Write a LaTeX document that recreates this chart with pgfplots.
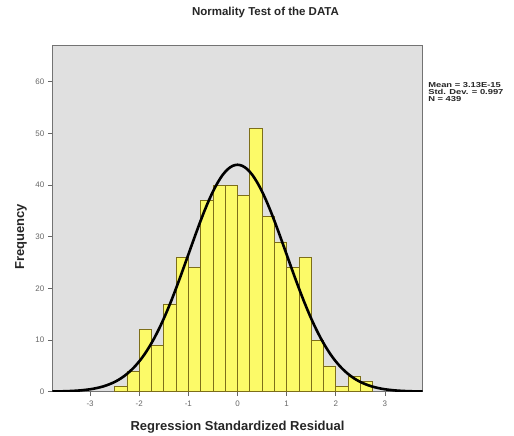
\documentclass[border=0pt]{standalone}
\usepackage{pgfplots}
\pgfplotsset{compat=1.18}
\usepackage{fontspec}
\setmainfont{Liberation Sans}
\definecolor{barfill}{RGB}{252,250,104}
\definecolor{baredge}{RGB}{125,110,25}
\definecolor{plotbg}{RGB}{224,224,224}
\begin{document}
\begin{tikzpicture}
\useasboundingbox (0,0) rectangle (514bp,436bp);
\begin{axis}[
  at={(52.3bp,44.3bp)}, anchor=south west,
  scale only axis, width=370.4bp, height=346.7bp,
  xmin=-3.77, xmax=3.77, ymin=0, ymax=67.1,
  axis background/.style={fill=plotbg},
  axis line style={black!55, line width=0.8bp},
  xtick={-3,-2,-1,0,1,2,3},
  ytick={0,10,20,30,40,50,60},
  tick align=outside, tick pos=left,
  major tick length=4.5bp,
  tick style={black!60, line width=0.6bp},
  /pgf/number format/assume math mode=true,
  ticklabel style={font=\fontsize{8bp}{9bp}\selectfont, text=black!60},
  xticklabel style={yshift=-1bp},
  clip=true,
]
\addplot[ybar interval, fill=barfill, draw=baredge, line width=0.7bp] coordinates {
  (-2.5,1) (-2.25,4) (-2.0,12) (-1.75,9) (-1.5,17) (-1.25,26) (-1.0,24)
  (-0.75,37) (-0.5,40) (-0.25,40) (0.0,38) (0.25,51) (0.5,34) (0.75,29)
  (1.0,24) (1.25,26) (1.5,10) (1.75,5) (2.0,1) (2.25,3) (2.5,2) (2.75,0)
};
\addplot[black, line width=2.6bp, smooth] coordinates {
  (-3.77,0.035) (-3.6,0.065) (-3.4,0.13) (-3.2,0.25) (-3.0,0.47) (-2.9,0.64)
  (-2.8,0.85) (-2.7,1.12) (-2.6,1.47) (-2.5,1.89) (-2.4,2.42) (-2.3,3.07)
  (-2.2,3.85) (-2.1,4.78) (-2.0,5.87) (-1.9,7.14) (-1.8,8.61) (-1.7,10.26)
  (-1.6,12.12) (-1.5,14.16) (-1.4,16.39) (-1.3,18.77) (-1.2,21.29) (-1.1,23.90)
  (-1.0,26.56) (-0.9,29.22) (-0.8,31.83) (-0.7,34.33) (-0.6,36.65) (-0.5,38.73)
  (-0.4,40.52) (-0.3,41.98) (-0.2,43.05) (-0.1,43.70) (0.0,43.92)
  (0.1,43.70) (0.2,43.05) (0.3,41.98) (0.4,40.52) (0.5,38.73) (0.6,36.65)
  (0.7,34.33) (0.8,31.83) (0.9,29.22) (1.0,26.56) (1.1,23.90) (1.2,21.29)
  (1.3,18.77) (1.4,16.39) (1.5,14.16) (1.6,12.12) (1.7,10.26) (1.8,8.61)
  (1.9,7.14) (2.0,5.87) (2.1,4.78) (2.2,3.85) (2.3,3.07) (2.4,2.42)
  (2.5,1.89) (2.6,1.47) (2.7,1.12) (2.8,0.85) (2.9,0.64) (3.0,0.47)
  (3.2,0.25) (3.4,0.13) (3.6,0.065) (3.77,0.035)
};
\end{axis}
% title
\node[font=\bfseries\fontsize{11.5bp}{13bp}\selectfont, text=black!85] at (265.5bp,423bp) {Normality Test of the DATA};
% axis labels
\node[font=\bfseries\fontsize{13bp}{14bp}\selectfont, text=black!85, anchor=base] at (237.5bp,6bp) {Regression Standardized Residual};
\node[font=\bfseries\fontsize{13bp}{14bp}\selectfont, text=black!85, rotate=90] at (21bp,199.3bp) {Frequency};
% statistics box
\begin{scope}[every node/.style={font=\bfseries\fontsize{7.2bp}{7.2bp}\selectfont, text=black!85, anchor=base west, inner sep=0pt, xscale=1.3}]
\node at (428bp,348.5bp) {Mean = 3.13E-15};
\node at (428bp,341.5bp) {Std. Dev. = 0.997};
\node at (428bp,334.5bp) {N = 439};
\end{scope}
\end{tikzpicture}
\end{document}
